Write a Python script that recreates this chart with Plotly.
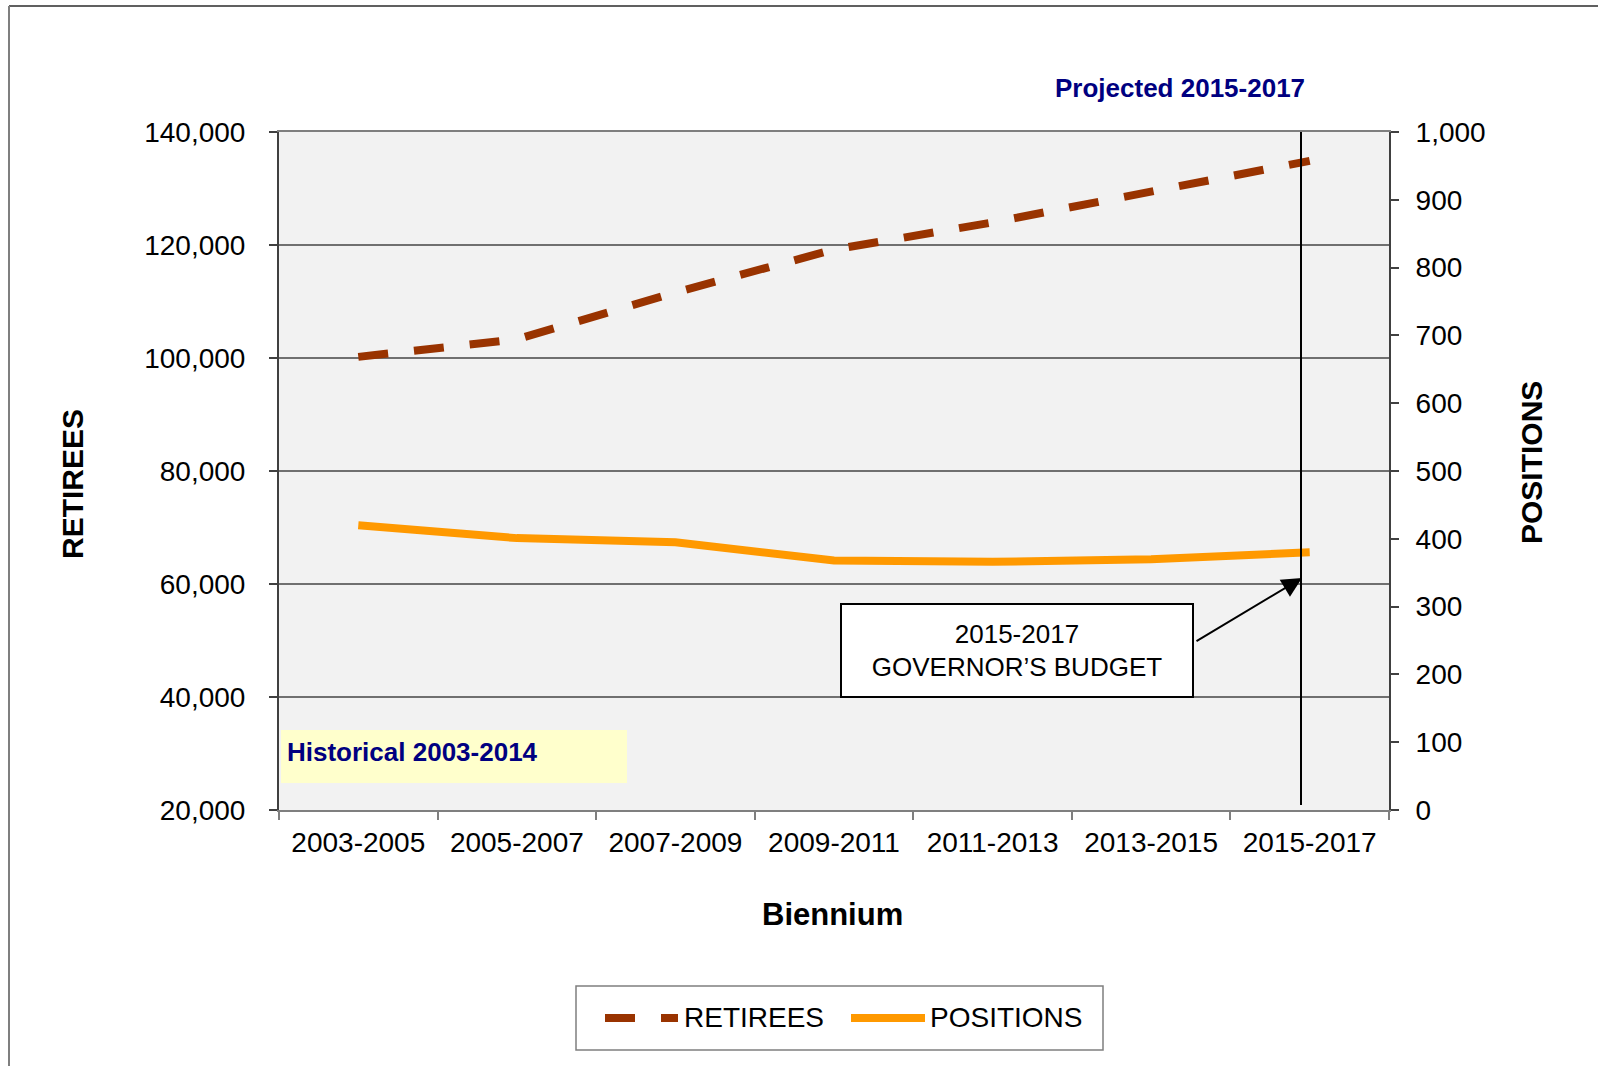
import plotly.graph_objects as go

# ---- data ----
categories = ["2003-2005", "2005-2007", "2007-2009", "2009-2011", "2011-2013", "2013-2015", "2015-2017"]
retirees = [100200, 103300, 111600, 119200, 124000, 129500, 134900]
positions = [420, 401, 395, 368, 366, 370, 380]

left_ticks = [20000, 40000, 60000, 80000, 100000, 120000, 140000]
right_ticks = [0, 100, 200, 300, 400, 500, 600, 700, 800, 900, 1000]

FONT = "Liberation Sans, Arial, sans-serif"
RET_COLOR = "#993300"
POS_COLOR = "#FF9900"
NAVY = "#000080"

fig = go.Figure()
fig.add_trace(go.Scatter(
    x=categories, y=retirees, name="RETIREES", mode="lines",
    line=dict(color=RET_COLOR, width=8, dash="30px,26px"),
    yaxis="y", showlegend=False, hoverinfo="x+y"))
fig.add_trace(go.Scatter(
    x=categories, y=positions, name="POSITIONS", mode="lines",
    line=dict(color=POS_COLOR, width=8),
    yaxis="y2", showlegend=False, hoverinfo="x+y"))

W, H = 1598, 1066
L, R, T, B = 279, 1389, 132, 810


def px(xp):
    return (xp - L) / (R - L)


def py(yp):
    return (B - yp) / (B - T)


fig.update_layout(
    width=W, height=H, autosize=False,
    margin=dict(l=L, r=W - R, t=T, b=H - B, pad=0),
    paper_bgcolor="white", plot_bgcolor="#F2F2F2",
    font=dict(family=FONT, size=28, color="black"),
    showlegend=False,
    xaxis=dict(
        type="category", categoryorder="array", categoryarray=categories,
        range=[-0.5, len(categories) - 0.5],
        showgrid=False, showline=True, linecolor="#7F7F7F", linewidth=2, mirror=True,
        ticks="outside", tickson="boundaries", ticklen=8, tickcolor="#7F7F7F", tickwidth=2,
        tickfont=dict(family=FONT, size=28, color="black"), ticklabelstandoff=6,
        zeroline=False, fixedrange=True,
    ),
    yaxis=dict(
        range=[20000, 140000], tickvals=left_ticks, tickformat=",d",
        showgrid=True, gridcolor="#707070", gridwidth=1.5,
        showline=True, linecolor="#404040", linewidth=2,
        ticks="outside", ticklen=8, tickcolor="#404040", tickwidth=2,
        tickfont=dict(family=FONT, size=28, color="black"), ticklabelstandoff=18,
        zeroline=False, fixedrange=True,
    ),
    yaxis2=dict(
        range=[0, 1000], tickvals=right_ticks, tickformat=",d",
        overlaying="y", side="right", anchor="x",
        showgrid=False, showline=True, linecolor="#404040", linewidth=2,
        ticks="outside", ticklen=8, tickcolor="#404040", tickwidth=2,
        tickfont=dict(family=FONT, size=28, color="black"), ticklabelstandoff=11,
        zeroline=False, fixedrange=True,
    ),
)

shapes = []
# outer frame (top and left edges visible)
shapes.append(dict(type="line", xref="paper", yref="paper",
                   x0=px(9), x1=px(1620), y0=py(6), y1=py(6),
                   line=dict(color="#606060", width=2)))
shapes.append(dict(type="line", xref="paper", yref="paper",
                   x0=px(9), x1=px(9), y0=py(6), y1=py(1080),
                   line=dict(color="#7F7F7F", width=2)))
# historical highlight box
shapes.append(dict(type="rect", xref="paper", yref="paper", layer="below",
                   x0=px(281), x1=px(627), y0=py(783), y1=py(730),
                   fillcolor="#FFFFCC", line=dict(width=0)))
# projected divider line
shapes.append(dict(type="line", xref="paper", yref="paper",
                   x0=px(1301), x1=px(1301), y0=py(805), y1=1,
                   line=dict(color="black", width=2)))
# legend frame and samples
shapes.append(dict(type="rect", xref="paper", yref="paper",
                   x0=px(576), x1=px(1103), y0=py(1050), y1=py(986),
                   fillcolor="white", line=dict(color="#7F7F7F", width=1.5)))
shapes.append(dict(type="line", xref="paper", yref="paper",
                   x0=px(605), x1=px(678), y0=py(1018), y1=py(1018),
                   line=dict(color=RET_COLOR, width=8, dash="30px,26px")))
shapes.append(dict(type="line", xref="paper", yref="paper",
                   x0=px(851), x1=px(925), y0=py(1018), y1=py(1018),
                   line=dict(color=POS_COLOR, width=8)))
fig.update_layout(shapes=shapes)

ann = []
# axis titles
ann.append(dict(text="<b>RETIREES</b>", xref="paper", yref="paper",
                x=px(72), y=py(484), textangle=-90, showarrow=False,
                xanchor="center", yanchor="middle", font=dict(family=FONT, size=30)))
ann.append(dict(text="<b>POSITIONS</b>", xref="paper", yref="paper",
                x=px(1532), y=py(463), textangle=-90, showarrow=False,
                xanchor="center", yanchor="middle", font=dict(family=FONT, size=30)))
ann.append(dict(text="<b>Biennium</b>", xref="paper", yref="paper",
                x=px(832), y=py(915), showarrow=False,
                xanchor="center", yanchor="middle", font=dict(family=FONT, size=31)))
# period labels
ann.append(dict(text="<b>Historical 2003-2014</b>", xref="paper", yref="paper",
                x=px(285), y=py(752), showarrow=False,
                xanchor="left", yanchor="middle", font=dict(family=FONT, size=26, color=NAVY)))
ann.append(dict(text="<b>Projected 2015-2017</b>", xref="paper", yref="paper",
                x=px(1180), y=py(88), showarrow=False,
                xanchor="center", yanchor="middle", font=dict(family=FONT, size=26, color=NAVY)))
# callout box
ann.append(dict(text="2015-2017<br>GOVERNOR\u2019S BUDGET", xref="paper", yref="paper",
                x=px(1017), y=py(650.5), showarrow=False,
                xanchor="center", yanchor="middle", align="center",
                width=350, height=91, borderpad=0,
                bgcolor="white", bordercolor="black", borderwidth=2,
                font=dict(family=FONT, size=26, color="black")))
# callout arrow
ann.append(dict(text="", xref="paper", yref="paper",
                x=px(1302), y=py(578), ax=1195 - 1302, ay=642 - 578,
                showarrow=True, arrowhead=2, arrowsize=2.0, arrowwidth=2,
                arrowcolor="black", standoff=0, startstandoff=0))
# legend labels
ann.append(dict(text="RETIREES", xref="paper", yref="paper",
                x=px(682), y=py(1017), showarrow=False,
                xanchor="left", yanchor="middle", font=dict(family=FONT, size=28)))
ann.append(dict(text="POSITIONS", xref="paper", yref="paper",
                x=px(928), y=py(1017), showarrow=False,
                xanchor="left", yanchor="middle", font=dict(family=FONT, size=28)))
fig.update_layout(annotations=ann)

fig.write_html("out.html", config={"displayModeBar": False})
